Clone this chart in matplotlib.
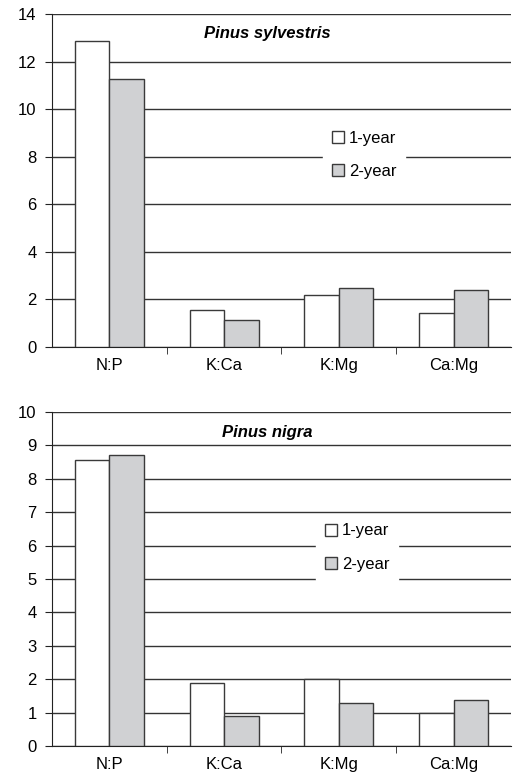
import numpy as np
import matplotlib.pyplot as plt

plt.rcParams['font.family'] = ['Liberation Sans', 'DejaVu Sans']
plt.rcParams['font.size'] = 12

ratios = ['N:P', 'K:Ca', 'K:Mg', 'Ca:Mg']
series = ['1-year', '2-year']

sylv_1yr = [12.88, 1.55, 2.2, 1.43]
sylv_2yr = [11.25, 1.12, 2.48, 2.39]

nigra_1yr = [8.55, 1.9, 2.0, 1.0]
nigra_2yr = [8.7, 0.9, 1.3, 1.37]

panels = [
    ('Pinus sylvestris', sylv_1yr, sylv_2yr, 14, 2, (0.68, 0.577)),
    ('Pinus nigra', nigra_1yr, nigra_2yr, 10, 1, (0.665, 0.594)),
]

fig = plt.figure(figsize=(5.15, 7.76), dpi=100)
axes = [fig.add_axes([0.101, 0.553, 0.891, 0.429]),
        fig.add_axes([0.101, 0.0387, 0.891, 0.4303])]

x = np.arange(len(ratios))
w = 0.3
edge = '#3a3a3a'

for ax, (title, v1, v2, ymax, step, legpos) in zip(axes, panels):
    ax.bar(x - w/2, v1, w, color='white', edgecolor=edge, linewidth=1, label=series[0], zorder=3)
    ax.bar(x + w/2, v2, w, color='#d0d1d3', edgecolor=edge, linewidth=1, label=series[1], zorder=3)
    ax.set_xlim(-0.5, len(ratios) - 0.5)
    ax.set_ylim(0, ymax)
    ax.set_yticks(np.arange(0, ymax + 0.1, step))
    ax.yaxis.grid(True, color='#333333', linewidth=1)
    ax.set_axisbelow(True)
    for s in ['top', 'right']:
        ax.spines[s].set_visible(False)
    ax.spines['left'].set_color('#222222')
    ax.spines['bottom'].set_color('#222222')
    # category labels between boundary ticks
    ax.set_xticks(x)
    ax.set_xticklabels(ratios)
    ax.tick_params(axis='x', length=0, pad=8)
    ax.set_xticks(np.arange(0.5, len(ratios) - 0.5, 1), minor=True)
    ax.tick_params(axis='x', which='minor', length=5, direction='out', color='#222222')
    ax.tick_params(axis='y', length=5, color='#222222', pad=6)
    ax.text(0.47, 0.94, title, transform=ax.transAxes, ha='center', va='center',
            fontweight='bold', fontstyle='italic', fontsize=12)
    leg = ax.legend(loc='center', bbox_to_anchor=legpos, frameon=True,
                    framealpha=1, edgecolor='white', fancybox=False,
                    handlelength=0.75, handleheight=0.75, handletextpad=0.3,
                    labelspacing=1.1, borderpad=0.5, borderaxespad=0)
    leg.set_zorder(5)

fig.savefig('out.png', dpi=100)
